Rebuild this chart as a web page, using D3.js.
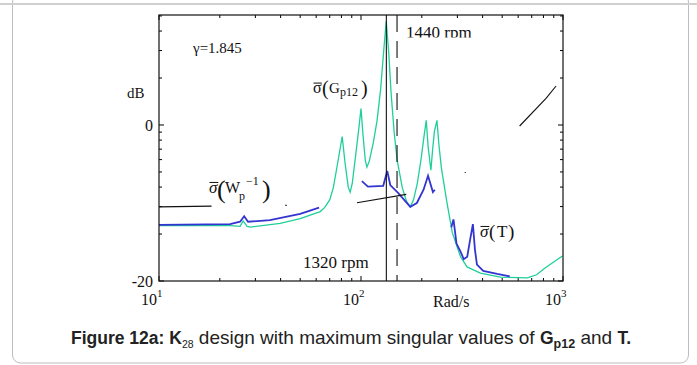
<!DOCTYPE html>
<html>
<head>
<meta charset="utf-8">
<script src="https://cdn.jsdelivr.net/npm/d3@7"></script>
<style>
  body { margin: 0; background: #fff; }
  svg { display: block; }
  .serif { font-family: "Liberation Serif", "DejaVu Serif", serif; fill: #111; }
</style>
</head>
<body>
<div id="chart"></div>
<script>
// valeurs : [rad/s, dB]
const gp12 = [[10,-12.9],[16,-12.9],[22.5,-12.9],[25.2,-13.0],[26.1,-12.3],[27.3,-13.0],[28.3,-13.1],
  [39.8,-12.6],[50,-12.0],[62.8,-11.1],[66,-10.6],[70,-9.6],[73,-8.0],[76.5,-5.0],[80.7,-1.5],
  [83.5,-5.0],[86.5,-8.0],[88.4,-8.6],[90.5,-7.5],[94,-4.0],[97.5,-0.5],[100,2.1],[102.5,-1.5],
  [105,-4.5],[107,-5.4],[110,-4.6],[115,-2.3],[120,0.5],[125,4.5],[130,10],[133.3,13.3],[137,9.5],
  [141,4],[146,-1],[151,-4.5],[160,-8],[168,-9.8],[175.3,-10.5],[182,-9.6],[190,-7.5],[198,-4.5],
  [205,-1.5],[210.4,0.6],[215,-2.8],[221.8,-5.8],[226.5,-3.0],[231,-0.8],[237.7,0.6],[243,-2.5],
  [250,-5.5],[265,-9.6],[283.1,-13.8],[311,-16.9],[335,-18.2],[389.7,-19.0],[490,-19.5],[666,-19.6],
  [740,-19.2],[818,-18.3],[993,-16.8]];

const tLow = [[10,-12.8],[22.5,-12.7],[25.2,-12.4],[26.4,-11.7],[27.6,-12.4],[35.4,-12.2],[50,-11.4],[62,-10.6]];
const tMid = [[101,-7.2],[108.2,-7.9],[128.8,-7.8],[134.9,-5.9],[139.6,-7.7],[152.6,-8.7],[175.3,-10.5],
  [189,-10.0],[204,-8.3],[214.7,-6.5],[227,-8.6],[232,-8.3]];
const tHigh = [[280,-13.1],[287,-12.1],[297,-15.2],[310.6,-16.2],[322.6,-17.2],[335.6,-16.9],[347,-14.7],
  [358,-12.7],[366.6,-16.0],[375,-17.9],[403,-18.7],[472,-19.1],[545,-19.4]];

const wp1 = [[10,-10.5],[18.2,-10.4]];
const wp2 = [[42.2,-10.3],[42.9,-10.3]];
const wp3 = [[95.5,-9.96],[167.5,-8.9]];
const wp4 = [[326,-6.1],[330,-6.1]];
const wp5 = [[610,-0.13],[824,3.4],[924,5.0]];

const rpmLines = [{w: 133.5, label: "1320 rpm", dashed: false}, {w: 150.8, label: "1440 rpm", dashed: true}];
const xMajor = [10, 100, 1000];
const xMinor = [20,30,40,50,60,70,80,90,200,300,400,500,600,700,800,900];
const yMajor = [0, -20];
const yMinorMult = [2,3,4,5,6,7,8,9];

// dimensions
const W = 697, H = 365;
const margin = {top: 15, left: 159, right: 134, bottom: 84};
const width = W - margin.left - margin.right,
      height = H - margin.top - margin.bottom;

const svg = d3.select("#chart").append("svg")
  .attr("width", W).attr("height", H);

// cadre de la page
svg.append("rect")
  .attr("x", 12.5).attr("y", -6).attr("width", 676).attr("height", 369)
  .attr("rx", 8).attr("fill", "none").attr("stroke", "#bdbdbd").attr("stroke-width", 1);
svg.append("line").attr("x1", 0).attr("x2", W).attr("y1", 4).attr("y2", 4)
  .attr("stroke", "#d0d0d0").attr("stroke-width", 2);

const g = svg.append("g").attr("transform", `translate(${margin.left},${margin.top})`);

const x = d3.scaleLog().domain([10, 1000]).range([0, width]);
const y = d3.scaleLinear().domain([-20, 14.1]).range([height, 0]);

// graduations (vers l'interieur)
const yMinor = [];
yMinorMult.forEach(k => {
  const v = 20 * Math.log10(k);
  yMinor.push(-20 + v);
  if (v < 14.1) yMinor.push(v);
});
const ticks = g.append("g").attr("stroke", "#000").attr("stroke-width", 1);
xMajor.forEach(v => {
  ticks.append("line").attr("x1", x(v)).attr("x2", x(v)).attr("y1", height).attr("y2", height - 5);
  ticks.append("line").attr("x1", x(v)).attr("x2", x(v)).attr("y1", 0).attr("y2", 5);
});
xMinor.forEach(v => {
  ticks.append("line").attr("x1", x(v)).attr("x2", x(v)).attr("y1", height).attr("y2", height - 3);
  ticks.append("line").attr("x1", x(v)).attr("x2", x(v)).attr("y1", 0).attr("y2", 3);
});
yMajor.forEach(v => {
  ticks.append("line").attr("x1", 0).attr("x2", 5).attr("y1", y(v)).attr("y2", y(v));
  ticks.append("line").attr("x1", width).attr("x2", width - 5).attr("y1", y(v)).attr("y2", y(v));
});
yMinor.forEach(v => {
  ticks.append("line").attr("x1", 0).attr("x2", 3).attr("y1", y(v)).attr("y2", y(v));
  ticks.append("line").attr("x1", width).attr("x2", width - 3).attr("y1", y(v)).attr("y2", y(v));
});

// libelles des axes
g.selectAll(".ylab").data(yMajor).enter().append("text")
  .attr("class", "serif")
  .attr("x", -6).attr("y", d => y(d)).attr("dy", "0.35em")
  .attr("text-anchor", "end").style("font-size", "16px")
  .text(d => d);

xMajor.forEach(v => {
  const t = g.append("text").attr("class", "serif")
    .attr("x", x(v) - 18).attr("y", height + 24).style("font-size", "16px");
  t.append("tspan").text("10");
  t.append("tspan").attr("dy", -8).style("font-size", "11px").text(Math.log10(v));
});
g.append("text").attr("class", "serif")
  .attr("x", 274).attr("y", height + 26).style("font-size", "16px").text("Rad/s");
g.append("text").attr("class", "serif")
  .attr("x", -32).attr("y", 83).style("font-size", "15px").text("dB");
g.append("text").attr("class", "serif")
  .attr("x", 34).attr("y", 38).style("font-size", "15px").text("γ=1.845");

// courbes
const line = d3.line().x(d => x(d[0])).y(d => y(d[1]));
svg.append("clipPath").attr("id", "plot")
  .append("rect").attr("width", width).attr("height", height);
const plot = g.append("g").attr("clip-path", "url(#plot)");

plot.append("path").datum(gp12)
  .attr("fill", "none").attr("stroke", "#1fcf9a").attr("stroke-width", 1.3).attr("d", line);
[tLow, tMid, tHigh].forEach(seg => {
  plot.append("path").datum(seg)
    .attr("fill", "none").attr("stroke", "#3434d0").attr("stroke-width", 1.8).attr("d", line);
});
[wp1, wp2, wp3, wp4, wp5].forEach(seg => {
  plot.append("path").datum(seg)
    .attr("fill", "none").attr("stroke", "#111").attr("stroke-width", 1.1).attr("d", line);
});

// lignes des vitesses
rpmLines.forEach(r => {
  g.append("line")
    .attr("x1", x(r.w)).attr("x2", x(r.w)).attr("y1", 0).attr("y2", height)
    .attr("stroke", "#111").attr("stroke-width", 1.1)
    .attr("stroke-dasharray", r.dashed ? "17,9" : null);
});
g.append("text").attr("class", "serif")
  .attr("x", 144).attr("y", 253).style("font-size", "17px").text(rpmLines[0].label);
svg.append("clipPath").attr("id", "cliptop")
  .append("rect").attr("x", 0).attr("y", 0).attr("width", W).attr("height", 37.5);
svg.append("text").attr("class", "serif").attr("clip-path", "url(#cliptop)")
  .attr("x", 406).attr("y", 37.5).style("font-size", "17px").text(rpmLines[1].label);

// etiquettes sigma
function sigma(px, py, size, italic) {
  svg.append("text").attr("class", "serif")
    .attr("x", px).attr("y", py).style("font-size", size + "px")
    .style("font-style", italic ? "italic" : null).text("σ");
  svg.append("line").attr("x1", px + 0.5).attr("x2", px + size * 0.55)
    .attr("y1", py - size * 0.62).attr("y2", py - size * 0.62)
    .attr("stroke", "#111").attr("stroke-width", 1);
}
function txt(px, py, size, s) {
  return svg.append("text").attr("class", "serif")
    .attr("x", px).attr("y", py).style("font-size", size + "px").text(s);
}
// σ(Gp12)
sigma(313, 93, 16, false);
txt(322, 95, 20, "(");
txt(329, 93, 15, "G");
txt(340, 96, 12, "p12");
txt(361, 95, 20, ")");

// σ(Wp^-1)
sigma(209, 193, 17, true);
txt(217, 198, 26, "(");
txt(225, 193, 16, "W");
txt(239, 200, 12, "p");
txt(246, 185, 12, "−1");
txt(262, 198, 26, ")");

// σ(T)
sigma(480, 237, 17, true);
txt(489, 238, 19, "(");
txt(497, 237, 17, "T");
txt(508, 238, 19, ")");

// cadre du graphique
g.append("rect").attr("width", width).attr("height", height)
  .attr("fill", "none").attr("stroke", "#111").attr("stroke-width", 1.2);

// legende
const cap = svg.append("text")
  .attr("x", 71).attr("y", 344)
  .style("font-family", "'Liberation Sans', Arial, sans-serif").style("font-size", "19px")
  .style("fill", "#222");
cap.append("tspan").style("font-weight", "bold").style("font-size", "17.5px").text("Figure 12a: K");
cap.append("tspan").attr("dy", 4).style("font-size", "10.5px").text("28");
cap.append("tspan").attr("dy", -4).text(" design with maximum singular values of ");
cap.append("tspan").style("font-weight", "bold").style("font-size", "17.5px").text("G");
cap.append("tspan").attr("dy", 4).style("font-size", "12.5px").style("font-weight", "bold").text("p12");
cap.append("tspan").attr("dy", -4).text(" and ");
cap.append("tspan").style("font-weight", "bold").style("font-size", "17.5px").text("T.");
</script>
</body>
</html>
